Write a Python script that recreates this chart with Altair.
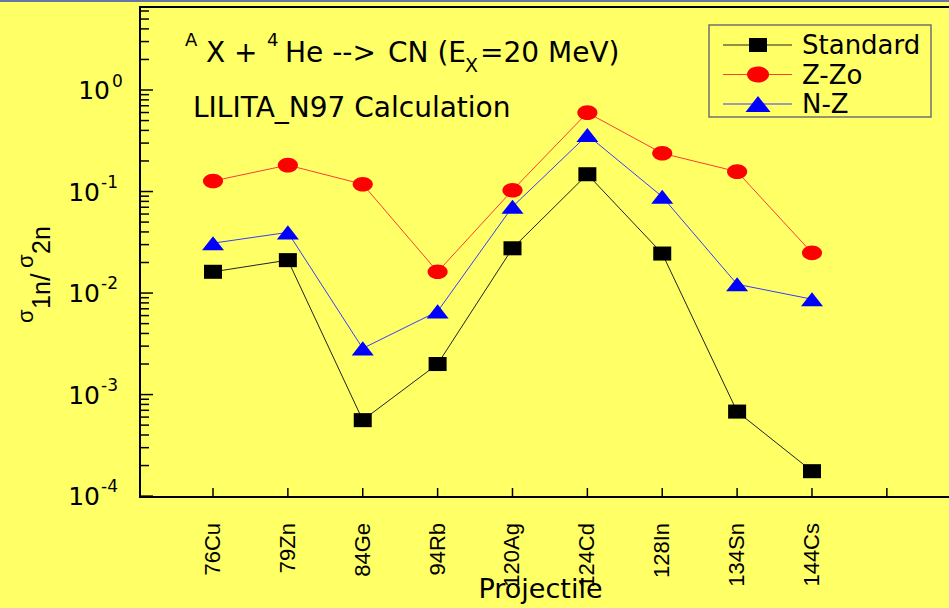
import altair as alt
import pandas as pd

# ---- data -------------------------------------------------------------
projectiles = ["76Cu", "79Zn", "84Ge", "94Rb", "120Ag", "124Cd", "128In", "134Sn", "144Cs"]
series_names = ["Standard", "Z-Zo", "N-Z"]
standard = [0.0162, 0.0211, 5.6e-4, 2.0e-3, 0.0276, 0.148, 0.0245, 6.8e-4, 1.76e-4]
z_zo = [0.127, 0.182, 0.118, 0.0162, 0.103, 0.598, 0.238, 0.157, 0.0249]
n_z = [0.031, 0.0396, 2.85e-3, 6.6e-3, 0.0708, 0.36, 0.089, 0.0122, 0.0087]
decade_exponents = [-4, -3, -2, -1, 0]
minor_multipliers = [2, 3, 4, 5, 6, 7, 8, 9]
x_tick_positions = list(range(1, 11))

# ---- styles -----------------------------------------------------------
line_colors = ["#222222", "#ff3b3b", "#3b3bff"]
marker_colors = ["#000000", "#ff0000", "#0000ff"]
marker_paths = [
    "M -1 -0.78 L 1 -0.78 L 1 0.78 L -1 0.78 Z",
    "M -1 0 A 1 0.727 0 1 0 1 0 A 1 0.727 0 1 0 -1 0 Z",
    "M 0 -0.64 L 1 0.64 L -1 0.64 Z",
]
marker_sizes = [324, 484, 625]

W, H = 809, 490
Y_MIN, Y_MAX = 9.8e-5, 6.57
FONT = "DejaVu Sans"
ROT_FONT = "Liberation Sans"
BG = "#ffff66"

rows = []
for name, vals in zip(series_names, [standard, z_zo, n_z]):
    for i, (p, v) in enumerate(zip(projectiles, vals), start=1):
        rows.append({"series": name, "idx": i, "projectile": p, "ratio": v})
df = pd.DataFrame(rows)
cat_df = pd.DataFrame({"idx": list(range(1, len(projectiles) + 1)), "projectile": projectiles})

x_scale = alt.Scale(domain=[0.025, 10.83], nice=False, zero=False)
y_scale = alt.Scale(type="log", domain=[Y_MIN, Y_MAX], nice=False)

one = pd.DataFrame({"k": [0]})


def label(text, x, y, size, font=FONT, angle=0, align="left", baseline="alphabetic"):
    return alt.Chart(one).mark_text(
        text=text, font=font, fontSize=size, angle=angle, align=align,
        baseline=baseline, color="#000000",
    ).encode(x=alt.value(x), y=alt.value(y))


# ---- series -----------------------------------------------------------
lines = alt.Chart(df).mark_line(strokeWidth=1).encode(
    x=alt.X("idx:Q", scale=x_scale, axis=None),
    y=alt.Y("ratio:Q", scale=y_scale, axis=None),
    color=alt.Color("series:N", scale=alt.Scale(domain=series_names, range=line_colors), legend=None),
)

points = alt.Chart(df).mark_point(filled=True, opacity=1, strokeWidth=0).encode(
    x=alt.X("idx:Q", scale=x_scale, axis=None),
    y=alt.Y("ratio:Q", scale=y_scale, axis=None),
    shape=alt.Shape("series:N", scale=alt.Scale(domain=series_names, range=marker_paths), legend=None),
    fill=alt.Fill("series:N", scale=alt.Scale(domain=series_names, range=marker_colors), legend=None),
    size=alt.Size("series:N", scale=alt.Scale(domain=series_names, range=marker_sizes), legend=None),
)

# ---- frame and ticks --------------------------------------------------
frame = [
    alt.Chart(one).mark_rule(color="#000000", strokeWidth=2).encode(
        x=alt.value(0), y=alt.value(0), y2=alt.value(H)),
    alt.Chart(one).mark_rule(color="#000000", strokeWidth=2).encode(
        x=alt.value(-1), x2=alt.value(W), y=alt.value(0)),
    alt.Chart(one).mark_rule(color="#000000", strokeWidth=2).encode(
        x=alt.value(-1), x2=alt.value(W), y=alt.value(H)),
    alt.Chart(one).mark_rect(color="#6674a6").encode(
        x=alt.value(-140), x2=alt.value(W), y=alt.value(-7), y2=alt.value(-5)),
]

major_df = pd.DataFrame({"e": decade_exponents, "v": [10.0 ** e for e in decade_exponents],
                         "exp": [str(e) for e in decade_exponents]})
minor_vals = [m * 10.0 ** e for e in decade_exponents for m in minor_multipliers if m * 10.0 ** e <= Y_MAX]
minor_df = pd.DataFrame({"v": minor_vals})
xtick_df = pd.DataFrame({"idx": x_tick_positions})

y_major = alt.Chart(major_df).mark_rule(color="#000000", strokeWidth=1.5).encode(
    y=alt.Y("v:Q", scale=y_scale, axis=None), x=alt.value(0), x2=alt.value(13))
y_minor = alt.Chart(minor_df).mark_rule(color="#000000", strokeWidth=1.5).encode(
    y=alt.Y("v:Q", scale=y_scale, axis=None), x=alt.value(0), x2=alt.value(9))
x_ticks = alt.Chart(xtick_df).mark_rule(color="#000000", strokeWidth=1.5).encode(
    x=alt.X("idx:Q", scale=x_scale, axis=None), y=alt.value(H), y2=alt.value(H - 9))

# category labels under the x axis, reading upwards
x_labels = alt.Chart(cat_df).mark_text(
    font=ROT_FONT, fontSize=22, angle=270, align="right", baseline="middle", color="#000000"
).encode(x=alt.X("idx:Q", scale=x_scale, axis=None), y=alt.value(H + 26), text="projectile:N")

# y tick labels: "10" with a raised exponent
base_neg = alt.Chart(major_df).transform_filter("datum.e < 0").mark_text(
    text="10", font=FONT, fontSize=25, align="right", baseline="alphabetic", dy=9, color="#000000"
).encode(y=alt.Y("v:Q", scale=y_scale, axis=None), x=alt.value(-40))
base_zero = alt.Chart(major_df).transform_filter("datum.e == 0").mark_text(
    text="10", font=FONT, fontSize=25, align="right", baseline="alphabetic", dy=9, color="#000000"
).encode(y=alt.Y("v:Q", scale=y_scale, axis=None), x=alt.value(-30))
exp_neg = alt.Chart(major_df).transform_filter("datum.e < 0").mark_text(
    font=FONT, fontSize=17, align="left", baseline="alphabetic", dy=-4, color="#000000"
).encode(y=alt.Y("v:Q", scale=y_scale, axis=None), x=alt.value(-39), text="exp:N")
exp_zero = alt.Chart(major_df).transform_filter("datum.e == 0").mark_text(
    font=FONT, fontSize=17, align="left", baseline="alphabetic", dy=-3, color="#000000"
).encode(y=alt.Y("v:Q", scale=y_scale, axis=None), x=alt.value(-28), text="exp:N")

# ---- titles -----------------------------------------------------------
texts = [
    label("A", 45, 39, 18),
    label("X +", 66, 55, 28),
    label("4", 127, 39, 18),
    label("He -->", 145, 55, 28),
    label("CN (E", 248, 55, 28),
    label("X", 325, 65, 19),
    label("=20 MeV)", 340, 55, 28),
    label("LILITA_N97 Calculation", 53, 110, 28),
    label("Projectile", W / 2 - 4, 591, 27, align="center"),
    # y axis title, rotated
    label("σ", -107, 316, 22, font=ROT_FONT, angle=270),
    label("1n", -90, 302, 25, font=ROT_FONT, angle=270),
    label("/", -90, 274, 27, font=ROT_FONT, angle=270),
    label("σ", -107, 261, 22, font=ROT_FONT, angle=270),
    label("2n", -90, 247, 25, font=ROT_FONT, angle=270),
]

# ---- legend -----------------------------------------------------------
legend_layers = [
    alt.Chart(one).mark_rect(filled=False, stroke="#707070", strokeWidth=1.5).encode(
        x=alt.value(569), x2=alt.value(791), y=alt.value(18), y2=alt.value(110))
]
for row, name in enumerate(series_names):
    cy = 38 + row * 29.5
    legend_layers.append(
        alt.Chart(one).mark_rule(color=line_colors[row], strokeWidth=1).encode(
            x=alt.value(583), x2=alt.value(652), y=alt.value(cy)))
    legend_layers.append(
        alt.Chart(one).mark_point(filled=True, opacity=1, strokeWidth=0, shape=marker_paths[row],
                                  size=marker_sizes[row], fill=marker_colors[row]).encode(
            x=alt.value(618), y=alt.value(cy)))
    legend_layers.append(label(name, 662, cy + 9, 26))

chart = alt.layer(
    *frame, y_major, y_minor, x_ticks, x_labels,
    base_neg, base_zero, exp_neg, exp_zero,
    lines, points, *texts, *legend_layers,
).properties(
    width=W,
    height=H,
    padding={"left": 140, "top": 7, "right": 0, "bottom": 111},
    autosize=alt.AutoSizeParams(type="none"),
    background=BG,
).configure_view(stroke=None)

chart.save("out.html", embed_options={"renderer": "svg", "actions": False})
